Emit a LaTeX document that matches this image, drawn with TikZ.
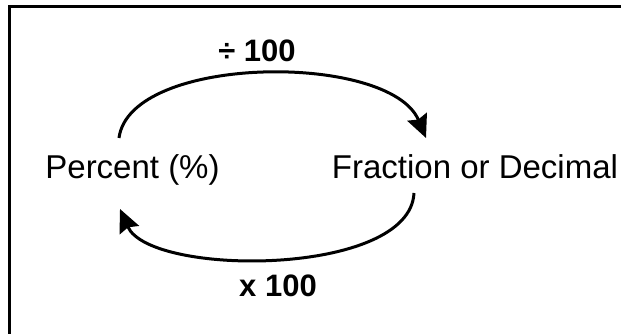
\documentclass[tikz,border=0pt]{standalone}
\usepackage{fontspec}
\setmainfont{Liberation Sans}
\setsansfont{Liberation Sans}
\usetikzlibrary{arrows.meta, calc}

\begin{document}
\begin{tikzpicture}[
    x=1pt, y=1pt,
    font=\sffamily,
    % text styles
    term/.style={inner sep=0pt, anchor=base, font=\sffamily\fontsize{33}{38}\selectfont},
    oplabel/.style={inner sep=0pt, anchor=base, font=\sffamily\bfseries\fontsize{31}{36}\selectfont},
    arr/.style={-{Stealth[length=23pt, width=21pt, inset=3pt]}, line width=3pt, draw=black}
]

\useasboundingbox (0,0) rectangle (621,334);

% open frame (left and top edges only)
\draw[line width=2.8pt] (9.5,0) -- (9.5,327.5) -- (621,327.5);

% ========================================================
% Terms
% ========================================================
\node[term] (percent) at (132.5,155) {Percent (\%)};
\node[term] (fraction) at (475,155) {Fraction or Decimal};

% operation labels
\node[oplabel] (div) at (257,272) {÷ 100};
\node[oplabel] (mul) at (278,37) {x 100};

% ========================================================
% Arcs
% ========================================================
\draw[arr] ([shift={(-13.5,41)}]percent.base) .. controls +(11,84) and +(-36,86) .. ([shift={(-49,41)}]fraction.base);
\draw[arr] ([shift={(-61,-14)}]fraction.base) .. controls +(-4,-84) and +(30,-68) .. ([shift={(-12.5,-30)}]percent.base);

\end{tikzpicture}
\end{document}
